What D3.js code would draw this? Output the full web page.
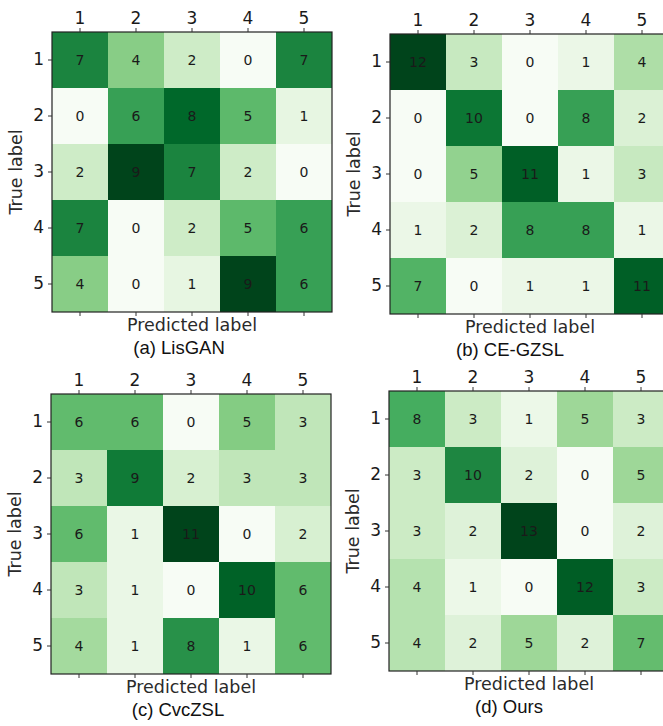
<!DOCTYPE html>
<html>
<head>
<meta charset="utf-8">
<script src="https://cdn.jsdelivr.net/npm/d3@7"></script>
<style>
  html, body { margin: 0; padding: 0; background: #fff; }
  svg { display: block; }
</style>
</head>
<body>
<svg id="chart" width="663" height="726"></svg>
<script>
// ---- data ----
const classLabels = ["1", "2", "3", "4", "5"];
const lisganValues = [
  [7, 4, 2, 0, 7],
  [0, 6, 8, 5, 1],
  [2, 9, 7, 2, 0],
  [7, 0, 2, 5, 6],
  [4, 0, 1, 9, 6]
];
const cegzslValues = [
  [12, 3, 0, 1, 4],
  [0, 10, 0, 8, 2],
  [0, 5, 11, 1, 3],
  [1, 2, 8, 8, 1],
  [7, 0, 1, 1, 11]
];
const cvczslValues = [
  [6, 6, 0, 5, 3],
  [3, 9, 2, 3, 3],
  [6, 1, 11, 0, 2],
  [3, 1, 0, 10, 6],
  [4, 1, 8, 1, 6]
];
const oursValues = [
  [8, 3, 1, 5, 3],
  [3, 10, 2, 0, 5],
  [3, 2, 13, 0, 2],
  [4, 1, 0, 12, 3],
  [4, 2, 5, 2, 7]
];
const panelCaptions = ["(a) LisGAN", "(b) CE-GZSL", "(c) CvcZSL", "(d) Ours"];
const xAxisTitle = "Predicted label";
const yAxisTitle = "True label";

// ---- layout ----
const panels = [
  { values: lisganValues, caption: panelCaptions[0], x: 52,  y: 32,  capX: 179 },
  { values: cegzslValues, caption: panelCaptions[1], x: 390, y: 34,  capX: 510 },
  { values: cvczslValues, caption: panelCaptions[2], x: 51,  y: 394, capX: 178 },
  { values: oursValues,   caption: panelCaptions[3], x: 389, y: 391, capX: 509 }
];
const cell = 56;
const size = cell * 5;
const greens = ["#f7fcf5","#e5f5e0","#c7e9c0","#a1d99b","#74c476","#41ab5d","#238b45","#006d2c","#00441b"];

const svg = d3.select("#chart");
const tickFont = "'DejaVu Sans', sans-serif";

panels.forEach(p => {
  const g = svg.append("g").attr("transform", `translate(${p.x},${p.y})`);
  const x = d3.scaleBand().domain(classLabels).range([0, size]);
  const y = d3.scaleBand().domain(classLabels).range([0, size]);
  const vmax = d3.max(p.values.flat());
  const color = d3.scaleLinear()
    .domain(greens.map((_, i) => vmax * i / (greens.length - 1)))
    .range(greens);

  const cells = [];
  p.values.forEach((row, r) => row.forEach((v, c) => cells.push({ r, c, v })));

  g.selectAll("rect.cell").data(cells).enter().append("rect")
    .attr("class", "cell")
    .attr("x", d => x(classLabels[d.c]))
    .attr("y", d => y(classLabels[d.r]))
    .attr("width", x.bandwidth())
    .attr("height", y.bandwidth())
    .attr("fill", d => color(d.v));

  g.selectAll("text.val").data(cells).enter().append("text")
    .attr("class", "val")
    .attr("x", d => x(classLabels[d.c]) + x.bandwidth() / 2)
    .attr("y", d => y(classLabels[d.r]) + y.bandwidth() / 2)
    .attr("dy", "0.36em")
    .attr("text-anchor", "middle")
    .attr("font-family", tickFont)
    .attr("font-size", 14)
    .attr("fill", "#1a1a1a")
    .text(d => d.v);

  // frame
  g.append("rect").attr("x", 0).attr("y", 0).attr("width", size).attr("height", size)
    .attr("fill", "none").attr("stroke", "#222").attr("stroke-width", 1.2);

  const styleAxis = sel => {
    sel.select(".domain").remove();
    sel.selectAll(".tick line").attr("stroke", "#333");
    sel.selectAll(".tick text").attr("font-family", tickFont).attr("font-size", 17).attr("fill", "#1a1a1a");
  };

  g.append("g").call(d3.axisTop(x).tickSize(4).tickPadding(4)).call(styleAxis);
  g.append("g").call(d3.axisLeft(y).tickSize(4).tickPadding(4)).call(styleAxis);
  g.append("g").attr("transform", `translate(0,${size})`)
    .call(d3.axisBottom(x).tickSize(4).tickFormat(""))
    .call(styleAxis);

  g.append("text")
    .attr("x", size / 2).attr("y", size + 19)
    .attr("text-anchor", "middle")
    .attr("font-family", tickFont).attr("font-size", 17.5).attr("fill", "#2a2a2a")
    .text(xAxisTitle);

  g.append("text")
    .attr("transform", `translate(-30,${size / 2}) rotate(-90)`)
    .attr("text-anchor", "middle")
    .attr("font-family", tickFont).attr("font-size", 17.5).attr("fill", "#2a2a2a")
    .text(yAxisTitle);

  svg.append("text")
    .attr("x", p.capX).attr("y", p.y + size + 42)
    .attr("text-anchor", "middle")
    .attr("font-family", "'Liberation Sans', Arial, sans-serif")
    .attr("font-size", 18.5).attr("fill", "#111")
    .text(p.caption);
});
</script>
</body>
</html>
